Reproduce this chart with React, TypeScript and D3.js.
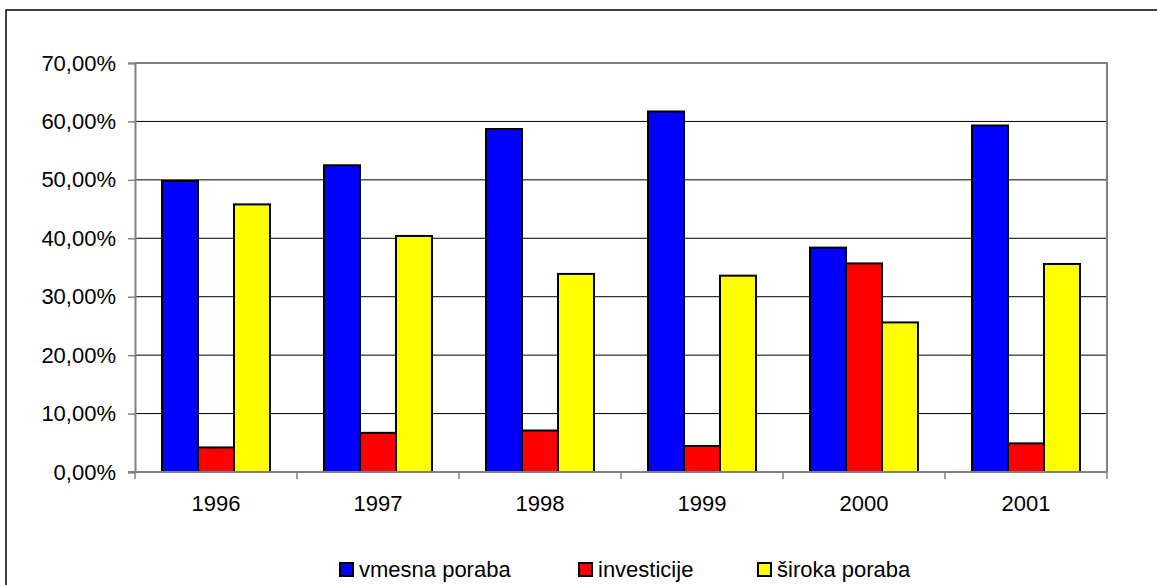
import React, { useEffect, useRef } from 'react';
import * as d3 from 'd3';

const years = ['1996', '1997', '1998', '1999', '2000', '2001'];
const seriesNames = ['vmesna poraba', 'investicije', 'široka poraba'];
const seriesColors = ['#0000FF', '#FF0000', '#FFFF00'];
const vmesna = [49.8, 52.5, 58.7, 61.7, 38.4, 59.3];
const investicije = [4.2, 6.7, 7.1, 4.45, 35.7, 4.9];
const siroka = [45.8, 40.4, 33.9, 33.6, 25.6, 35.6];
const yTicks = [0, 10, 20, 30, 40, 50, 60, 70];

const W = 1157;
const H = 585;

export default function App() {
  const svgRef = useRef<SVGSVGElement>(null);

  useEffect(() => {
    if (!svgRef.current) return;
    const svg = d3.select(svgRef.current);
    svg.selectAll('*').remove();

    const font = 'Liberation Sans, Arial, sans-serif';
    const left = 135, right = 1107, top = 63, bottom = 472;

    // outer chart border
    svg.append('rect')
      .attr('x', 6).attr('y', 10)
      .attr('width', W + 20).attr('height', H + 20)
      .attr('fill', 'white').attr('stroke', '#000').attr('stroke-width', 1.5);

    const x0 = d3.scaleBand<string>().domain(years).range([left, right]).padding(0);
    const step = x0.bandwidth();
    const barW = step / 4.5;
    const x1 = d3.scaleBand<number>().domain([0, 1, 2])
      .range([barW * 0.75, step - barW * 0.75]).padding(0);
    const y = d3.scaleLinear().domain([0, 70]).range([bottom, top]);

    // gridlines
    svg.append('g')
      .selectAll('line')
      .data(yTicks.filter(t => t > 0 && t < 70))
      .join('line')
      .attr('x1', left).attr('x2', right)
      .attr('y1', d => y(d)).attr('y2', d => y(d))
      .attr('stroke', '#000').attr('stroke-width', 1);

    // plot frame (top, right)
    svg.append('path')
      .attr('d', `M${left},${top}H${right}V${bottom}`)
      .attr('fill', 'none').attr('stroke', '#808080').attr('stroke-width', 2);

    const series = [vmesna, investicije, siroka];
    const groups = svg.append('g')
      .selectAll('g')
      .data(years)
      .join('g')
      .attr('transform', d => `translate(${x0(d)},0)`);

    groups.selectAll('rect')
      .data((d, i) => series.map((s, k) => ({ k, v: s[i] })))
      .join('rect')
      .attr('x', d => x1(d.k)!)
      .attr('width', x1.bandwidth())
      .attr('y', d => y(d.v))
      .attr('height', d => bottom - y(d.v))
      .attr('fill', d => seriesColors[d.k])
      .attr('stroke', '#000').attr('stroke-width', 2);

    // y axis
    const yAxis = svg.append('g')
      .attr('transform', `translate(${left},0)`)
      .call(d3.axisLeft(y).tickValues(yTicks).tickSize(7).tickPadding(12)
        .tickFormat(d => (d as number).toFixed(2).replace('.', ',') + '%'));
    yAxis.select('.domain').attr('stroke', '#808080').attr('stroke-width', 2);
    yAxis.selectAll('.tick line').attr('stroke', '#808080').attr('stroke-width', 1.5);
    yAxis.selectAll('text').attr('font-family', font).attr('font-size', 22).attr('fill', '#000');

    // x axis
    const xAxis = svg.append('g').attr('transform', `translate(0,${bottom})`);
    xAxis.append('line')
      .attr('x1', left - 7).attr('x2', right)
      .attr('stroke', '#808080').attr('stroke-width', 2);
    xAxis.selectAll('line.tk')
      .data([...years.map(d => x0(d)!), right])
      .join('line')
      .attr('class', 'tk')
      .attr('x1', d => d).attr('x2', d => d)
      .attr('y1', 0).attr('y2', 7)
      .attr('stroke', '#808080').attr('stroke-width', 1.5);
    xAxis.selectAll('text')
      .data(years)
      .join('text')
      .attr('x', d => x0(d)! + step / 2)
      .attr('y', 39)
      .attr('text-anchor', 'middle')
      .attr('font-family', font).attr('font-size', 22)
      .text(d => d);

    // legend
    const legendX = [340, 579, 758];
    const legend = svg.append('g');
    seriesNames.forEach((name, k) => {
      legend.append('rect')
        .attr('x', legendX[k]).attr('y', 563)
        .attr('width', 13).attr('height', 13)
        .attr('fill', seriesColors[k])
        .attr('stroke', '#000').attr('stroke-width', 2);
      legend.append('text')
        .attr('x', legendX[k] + 19).attr('y', 577)
        .attr('font-family', font).attr('font-size', 22)
        .text(name);
    });
  }, []);

  return (
    <svg
      ref={svgRef}
      width={W}
      height={H}
      style={{ position: 'absolute', left: 0, top: 0, background: 'white' }}
    />
  );
}
